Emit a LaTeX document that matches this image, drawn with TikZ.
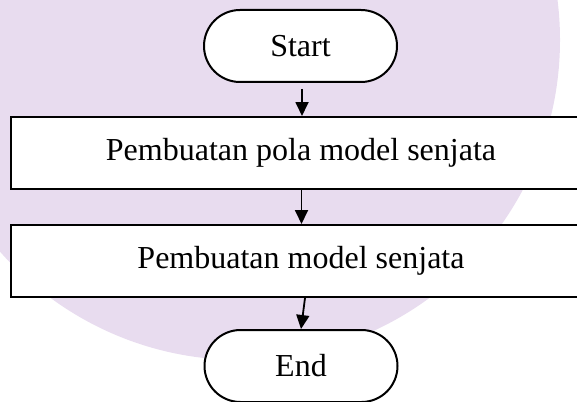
\documentclass[tikz,border=0pt]{standalone}
\usepackage{fontspec}
\setmainfont{Liberation Serif}
\usepackage{tikz}
\usetikzlibrary{backgrounds}
\usetikzlibrary{positioning, calc, arrows.meta, shapes}
\definecolor{wmlilac}{HTML}{E8DCEF}
\tikzset{terminal/.style={draw, line width=1pt, rounded corners=18pt, minimum width=96.5pt, minimum height=36pt, fill=white}}
\tikzset{procbox/.style={draw, line width=1pt, minimum width=290pt, minimum height=36pt, fill=white}}
\tikzset{flow/.style={line width=0.9pt, -{Triangle[length=7pt, width=6.5pt]}}}

\begin{document}
\begin{tikzpicture}[x=0.5pt, y=-0.5pt, font=\fontsize{16}{19}\selectfont]

      \useasboundingbox (0,0) rectangle (577,401);

      % BACKGROUND

      \begin{scope}[on background layer]
        \clip (0,0) rectangle (577,401);
        \fill[wmlilac] (240,40) circle[radius=160pt];
      \end{scope}

      % NODES

      \node[terminal] (start) at (300.5,46) {Start};
      \node[procbox] (pola) at (301,153) {Pembuatan pola model senjata};
      \node[procbox] (model) at (301,261) {Pembuatan model senjata};
      \node[terminal] (end) at (301,366) {End};

      % ARCS

      \draw[flow] ($(start.south)+(1.5,6)$) -- ($(start.south |- pola.north)+(1.5,0)$);
      \draw[flow] ($(start.south |- pola.south)+(1,0)$) -- ($(start.south |- model.north)+(1,0)$);
      \draw[flow] ($(model.south -| end.north)+(4,0)$) -- (end.north);

\end{tikzpicture}
\end{document}
